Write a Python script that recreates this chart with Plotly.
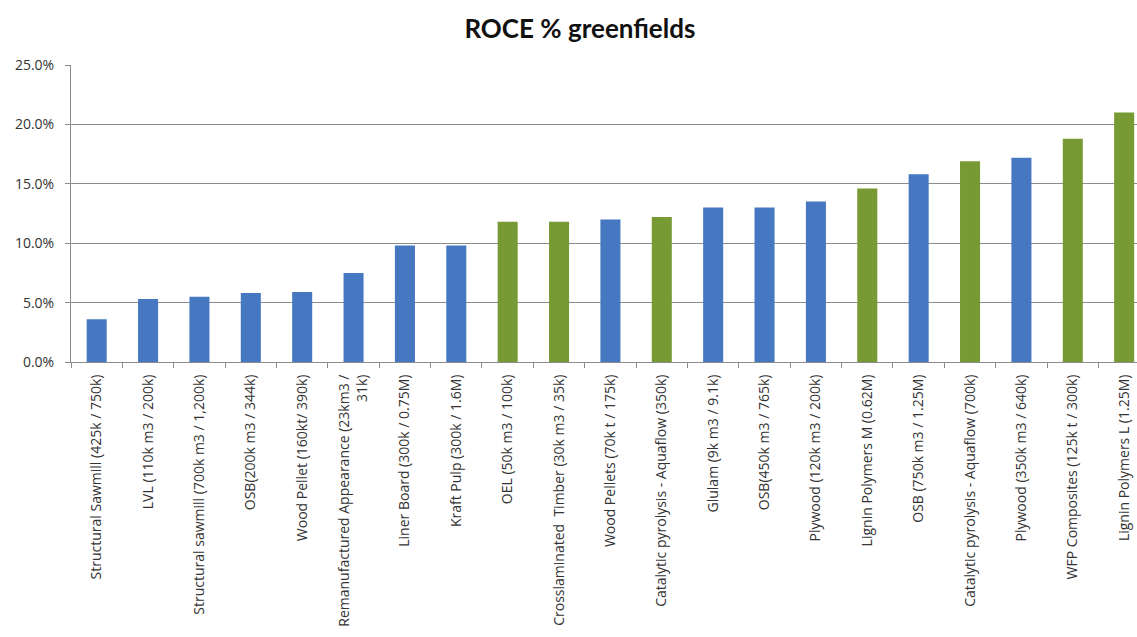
import plotly.graph_objects as go

# Projects, ROCE (%) and project type (B = blue, G = green)
projects = [
    "Structural Sawmill (425k / 750k)",
    "LVL (110k m3 / 200k)",
    "Structural sawmill (700k m3 / 1,200k)",
    "OSB(200k m3 / 344k)",
    "Wood Pellet (160kt/ 390k)",
    "Remanufactured Appearance (23km3 /<br>31k)",
    "Liner Board (300k / 0.75M)",
    "Kraft Pulp (300k / 1.6M)",
    "OEL (50k m3 / 100k)",
    "Crosslaminated  Timber (30k m3 / 35k)",
    "Wood Pellets (70k t / 175k)",
    "Catalytic pyrolysis - Aquaflow (350k)",
    "Glulam (9k m3 / 9.1k)",
    "OSB(450k m3 / 765k)",
    "Plywood (120k m3 / 200k)",
    "Lignin Polymers M (0.62M)",
    "OSB (750k m3 / 1.25M)",
    "Catalytic pyrolysis - Aquaflow (700k)",
    "Plywood (350k m3 / 640k)",
    "WFP Composites (125k t / 300k)",
    "Lignin Polymers L (1.25M)",
]
roce = [3.6, 5.3, 5.5, 5.8, 5.9, 7.5, 9.8, 9.8, 11.8, 11.8, 12.0,
        12.2, 13.0, 13.0, 13.5, 14.6, 15.8, 16.9, 17.2, 18.8, 21.0]
group = ["B", "B", "B", "B", "B", "B", "B", "B", "G", "G", "B",
         "G", "B", "B", "B", "G", "B", "G", "B", "G", "G"]
y_ticks = [0, 5, 10, 15, 20, 25]

palette = {"B": "#4677C1", "G": "#789A35"}

fig = go.Figure(
    go.Bar(
        x=projects,
        y=roce,
        marker=dict(color=[palette[g] for g in group], line=dict(width=0)),
        width=0.39,
    )
)

fig.update_layout(
    width=1137,
    height=637,
    margin=dict(l=71, r=0, t=65, b=275),
    paper_bgcolor="white",
    plot_bgcolor="white",
    showlegend=False,
    title=dict(
        text="<b>ROCE % greenfields</b>",
        x=0.51,
        xanchor="center",
        y=0.955,
        yanchor="middle",
        font=dict(family="Lato, Open Sans, sans-serif", size=26, color="#111111"),
    ),
    font=dict(family="Open Sans, sans-serif", color="#333333"),
)

fig.update_xaxes(
    type="category",
    range=[-0.5, 20.25],
    tickangle=-90,
    tickson="boundaries",
    ticks="outside",
    ticklen=5,
    tickcolor="#8C8C8C",
    showline=True,
    linecolor="#8C8C8C",
    linewidth=1,
    showgrid=False,
    ticklabelstandoff=6,
    tickfont=dict(size=14, color="#333333"),
)

fig.update_yaxes(
    range=[0, 25],
    tickvals=y_ticks,
    ticktext=[f"{v:.1f}%" for v in y_ticks],
    ticks="outside",
    ticklen=5,
    tickcolor="#8C8C8C",
    showline=True,
    linecolor="#8C8C8C",
    linewidth=1,
    showgrid=True,
    gridcolor="#8C8C8C",
    gridwidth=1,
    zeroline=False,
    ticklabelstandoff=8,
    tickfont=dict(size=14, color="#333333"),
)

fig.write_html("out.html")
